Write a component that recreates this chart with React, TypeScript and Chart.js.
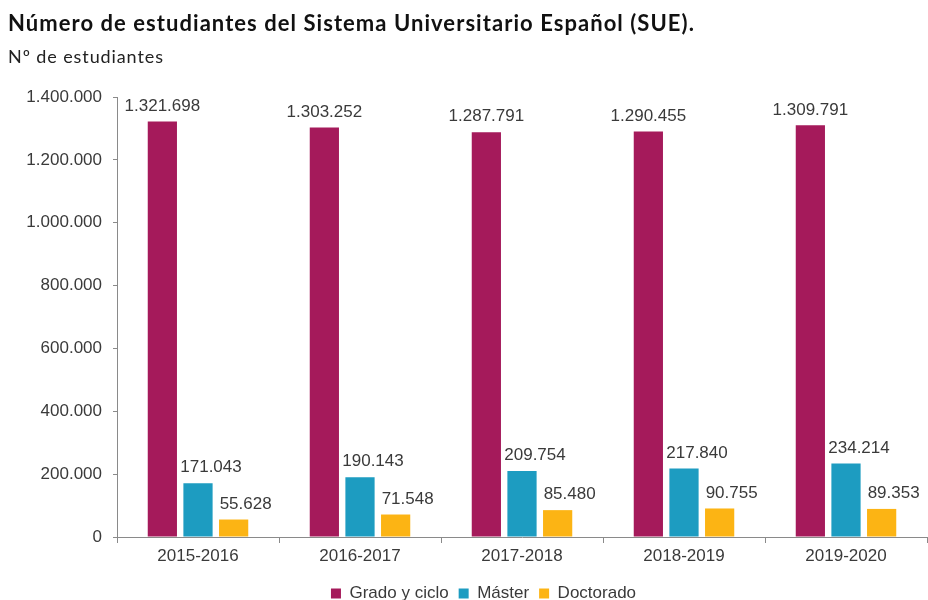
import React, { useEffect, useRef } from "react";
import { Chart, registerables } from "chart.js";

Chart.register(...registerables);

const categories = ["2015-2016", "2016-2017", "2017-2018", "2018-2019", "2019-2020"];
const seriesNames = ["Grado y ciclo", "Máster", "Doctorado"];
const grado = [1321698, 1303252, 1287791, 1290455, 1309791];
const master = [171043, 190143, 209754, 217840, 234214];
const doctorado = [55628, 71548, 85480, 90755, 89353];
const yMin = 0;
const yMax = 1400000;
const yStep = 200000;

const colors = ["#A51A5B", "#1D9CC1", "#FCB414"];
const labelOffsets = [0, 13, 12];
const textColor = "#3a3a3a";
const axisColor = "#8a8a8a";
const FONT = "'Liberation Sans', Arial, sans-serif";

function fmt(v: number): string {
  const s = Math.round(v).toString();
  return s.replace(/\B(?=(\d{3})+(?!\d))/g, ".");
}

const valueLabels = {
  id: "valueLabels",
  afterDatasetsDraw(chart: any) {
    const ctx = chart.ctx;
    ctx.save();
    ctx.font = `17px ${FONT}`;
    ctx.fillStyle = textColor;
    ctx.textAlign = "center";
    ctx.textBaseline = "bottom";
    chart.data.datasets.forEach((ds: any, di: number) => {
      const meta = chart.getDatasetMeta(di);
      meta.data.forEach((el: any, i: number) => {
        ctx.fillText(fmt(ds.data[i]), el.x + labelOffsets[di], el.y - 7);
      });
    });
    ctx.restore();
  },
};

const legendShift = {
  id: "legendShift",
  afterLayout(chart: any) {
    const l = chart.legend;
    if (l) {
      l.left += 20;
      l.right += 20;
    }
  },
};

export default function App() {
  const ref = useRef<HTMLCanvasElement | null>(null);
  useEffect(() => {
    if (!ref.current) return;
    const chart = new Chart(ref.current, {
      type: "bar",
      data: {
        labels: categories,
        datasets: [grado, master, doctorado].map((d, i) => ({
          label: seriesNames[i],
          data: d,
          backgroundColor: colors[i],
          borderWidth: 0,
          categoryPercentage: 0.66,
          barPercentage: 0.82,
        })),
      },
      options: {
        animation: false,
        responsive: false,
        devicePixelRatio: 1,
        layout: { padding: { top: 97, left: 0, right: 1, bottom: 0 } },
        plugins: {
          title: { display: false },
          tooltip: { enabled: false },
          legend: {
            position: "bottom",
            labels: {
              boxWidth: 10,
              boxHeight: 10,
              padding: 10,
              color: textColor,
              font: { family: FONT, size: 17 },
            },
          },
        },
        scales: {
          x: {
            grid: {
              display: true,
              drawOnChartArea: false,
              drawTicks: true,
              tickLength: 6,
              color: axisColor,
              offset: true,
            },
            border: { display: true, color: axisColor },
            ticks: { color: textColor, font: { family: FONT, size: 17 }, padding: 3 },
            afterFit: (s: any) => {
              s.height = 38;
            },
          },
          y: {
            min: yMin,
            max: yMax,
            grid: {
              display: true,
              drawOnChartArea: false,
              drawTicks: true,
              tickLength: 4,
              color: axisColor,
            },
            border: { display: true, color: axisColor },
            ticks: {
              stepSize: yStep,
              color: textColor,
              font: { family: FONT, size: 17 },
              padding: 11,
              callback: (v: any) => fmt(Number(v)),
            },
            afterFit: (s: any) => {
              s.width = 117;
            },
          },
        },
      },
      plugins: [valueLabels, legendShift],
    });
    return () => chart.destroy();
  }, []);

  return (
    <div
      style={{
        position: "absolute",
        left: 0,
        top: 0,
        width: 928,
        height: 600,
        overflow: "hidden",
        background: "#fff",
      }}
    >
      <canvas ref={ref} width={928} height={612} style={{ position: "absolute", left: 0, top: 0 }} />
      <div
        style={{
          position: "absolute",
          left: 8,
          top: 10,
          fontFamily: "Lato, 'Open Sans', sans-serif",
          fontWeight: 700,
          fontSize: 22,
          letterSpacing: "1.05px",
          color: "#111",
          whiteSpace: "nowrap",
          lineHeight: "26px",
        }}
      >
        Número de estudiantes del Sistema Universitario Español (SUE).
      </div>
      <div
        style={{
          position: "absolute",
          left: 8,
          top: 46,
          fontFamily: "Lato, 'Open Sans', sans-serif",
          fontSize: 18,
          letterSpacing: "0.9px",
          color: "#222",
          whiteSpace: "nowrap",
          lineHeight: "20px",
        }}
      >
        Nº de estudiantes
      </div>
    </div>
  );
}
